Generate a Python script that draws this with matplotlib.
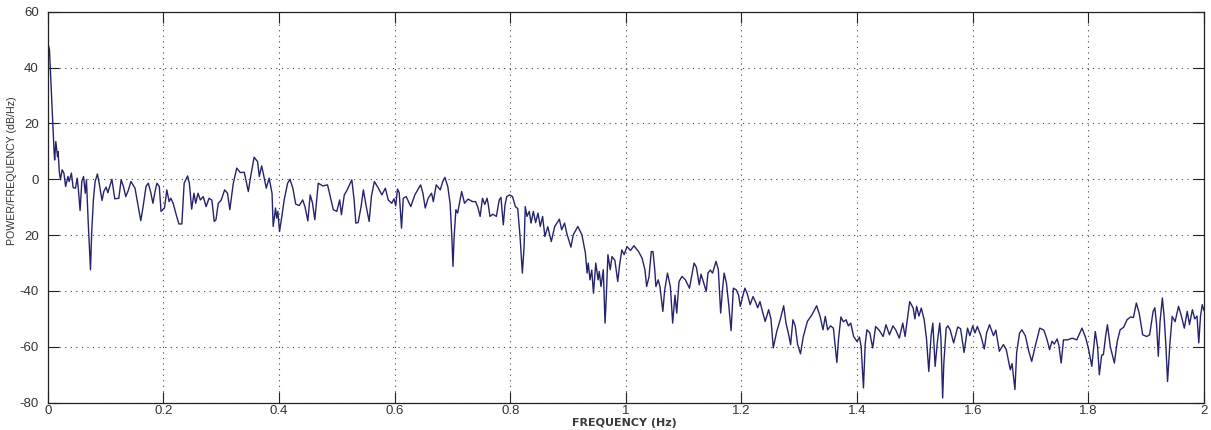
import matplotlib
matplotlib.use("Agg")
import matplotlib.pyplot as plt

# ---- data ----
freq_hz = [
    0.000, 0.003, 0.007, 0.009, 0.011, 0.012, 0.014, 0.017, 0.018, 0.020,
    0.022, 0.025, 0.028, 0.031, 0.035, 0.037, 0.041, 0.044, 0.048, 0.051,
    0.053, 0.056, 0.059, 0.062, 0.065, 0.067, 0.070, 0.073, 0.074, 0.076,
    0.079, 0.082, 0.086, 0.089, 0.094, 0.097, 0.101, 0.104, 0.108, 0.111,
    0.116, 0.123, 0.127, 0.131, 0.135, 0.139, 0.144, 0.151, 0.157, 0.161,
    0.165, 0.170, 0.174, 0.178, 0.182, 0.186, 0.189, 0.193, 0.196, 0.202,
    0.206, 0.210, 0.213, 0.217, 0.223, 0.227, 0.232, 0.236, 0.242, 0.245,
    0.249, 0.253, 0.256, 0.260, 0.264, 0.269, 0.274, 0.279, 0.284, 0.288,
    0.291, 0.295, 0.300, 0.306, 0.311, 0.315, 0.321, 0.327, 0.333, 0.340,
    0.347, 0.351, 0.357, 0.363, 0.366, 0.370, 0.373, 0.378, 0.383, 0.388,
    0.390, 0.394, 0.396, 0.398, 0.401, 0.405, 0.409, 0.415, 0.419, 0.424,
    0.429, 0.435, 0.441, 0.445, 0.450, 0.454, 0.458, 0.462, 0.468, 0.476,
    0.484, 0.488, 0.494, 0.500, 0.505, 0.508, 0.513, 0.518, 0.526, 0.530,
    0.533, 0.537, 0.542, 0.546, 0.551, 0.556, 0.560, 0.565, 0.572, 0.578,
    0.584, 0.589, 0.595, 0.599, 0.602, 0.605, 0.608, 0.612, 0.615, 0.620,
    0.628, 0.635, 0.645, 0.649, 0.653, 0.658, 0.664, 0.667, 0.672, 0.676,
    0.679, 0.683, 0.687, 0.692, 0.696, 0.699, 0.701, 0.703, 0.706, 0.709,
    0.716, 0.721, 0.727, 0.735, 0.740, 0.744, 0.748, 0.752, 0.756, 0.760,
    0.762, 0.765, 0.770, 0.776, 0.781, 0.784, 0.788, 0.791, 0.794, 0.799,
    0.804, 0.809, 0.813, 0.817, 0.821, 0.824, 0.826, 0.829, 0.833, 0.836,
    0.840, 0.844, 0.848, 0.852, 0.856, 0.860, 0.865, 0.871, 0.877, 0.885,
    0.889, 0.894, 0.898, 0.905, 0.909, 0.917, 0.924, 0.930, 0.933, 0.935,
    0.938, 0.941, 0.944, 0.948, 0.952, 0.954, 0.957, 0.961, 0.964, 0.966,
    0.969, 0.973, 0.976, 0.981, 0.986, 0.989, 0.993, 0.997, 1.002, 1.008,
    1.014, 1.022, 1.028, 1.033, 1.036, 1.040, 1.044, 1.047, 1.050, 1.052,
    1.056, 1.059, 1.064, 1.067, 1.072, 1.077, 1.081, 1.085, 1.088, 1.092,
    1.097, 1.103, 1.110, 1.118, 1.122, 1.127, 1.130, 1.134, 1.139, 1.142,
    1.146, 1.150, 1.156, 1.160, 1.164, 1.167, 1.170, 1.174, 1.178, 1.182,
    1.186, 1.191, 1.195, 1.198, 1.202, 1.206, 1.210, 1.215, 1.220, 1.225,
    1.228, 1.232, 1.237, 1.241, 1.247, 1.251, 1.255, 1.261, 1.267, 1.273,
    1.277, 1.281, 1.285, 1.289, 1.293, 1.297, 1.302, 1.307, 1.314, 1.322,
    1.330, 1.336, 1.341, 1.345, 1.349, 1.354, 1.359, 1.365, 1.368, 1.372,
    1.376, 1.381, 1.385, 1.389, 1.394, 1.400, 1.404, 1.407, 1.411, 1.414,
    1.417, 1.422, 1.427, 1.432, 1.438, 1.445, 1.450, 1.456, 1.462, 1.467,
    1.473, 1.479, 1.483, 1.491, 1.497, 1.500, 1.503, 1.507, 1.511, 1.516,
    1.520, 1.524, 1.528, 1.531, 1.535, 1.539, 1.543, 1.545, 1.548, 1.550,
    1.554, 1.557, 1.561, 1.567, 1.574, 1.579, 1.585, 1.591, 1.595, 1.600,
    1.604, 1.608, 1.614, 1.620, 1.624, 1.629, 1.636, 1.640, 1.646, 1.653,
    1.658, 1.665, 1.668, 1.673, 1.676, 1.681, 1.685, 1.691, 1.697, 1.702,
    1.709, 1.716, 1.723, 1.728, 1.733, 1.737, 1.741, 1.746, 1.749, 1.753,
    1.757, 1.764, 1.772, 1.780, 1.789, 1.795, 1.800, 1.806, 1.812, 1.816,
    1.819, 1.823, 1.826, 1.830, 1.833, 1.838, 1.845, 1.850, 1.855, 1.861,
    1.867, 1.873, 1.878, 1.883, 1.888, 1.894, 1.901, 1.906, 1.912, 1.915,
    1.918, 1.921, 1.924, 1.928, 1.931, 1.934, 1.937, 1.941, 1.945, 1.950,
    1.956, 1.961, 1.966, 1.971, 1.975, 1.980, 1.984, 1.988, 1.991, 1.994,
    1.997, 2.000,
]

psd_db = [
    48.9, 46.5, 28.4, 20.1, 9.9, 6.9, 13.5, 8.1, 9.9, 2.8,
    -0.2, 3.4, 2.2, -2.6, 1.0, -0.8, 2.2, -3.0, -3.2, 0.4,
    -3.5, -11.2, -0.8, 1.0, -5.0, -0.2, -15.1, -27.7, -32.4, -19.3,
    -7.4, -0.8, 1.9, -1.4, -7.6, -4.4, -2.8, -4.8, -2.1, 0.0,
    -7.0, -6.8, -0.2, -2.6, -6.2, -4.2, -0.8, -3.2, -10.3, -14.8,
    -9.8, -2.6, -1.4, -4.5, -8.6, -4.0, -1.4, -2.6, -11.5, -10.3,
    -3.8, -8.0, -6.8, -8.6, -13.3, -16.0, -16.0, -1.4, 1.2, -1.4,
    -10.7, -5.0, -8.6, -5.0, -7.4, -6.2, -9.8, -6.8, -7.5, -15.1,
    -14.5, -8.6, -7.5, -3.8, -5.0, -10.9, -1.4, 4.0, 2.4, 2.5,
    -4.4, 1.0, 7.9, 6.3, 1.0, 4.8, 2.0, -3.2, 0.4, -5.0,
    -16.9, -10.3, -13.9, -11.5, -18.7, -13.3, -7.4, -1.4, 0.0, -3.2,
    -8.9, -9.4, -7.4, -9.8, -14.9, -5.6, -8.5, -14.5, -1.4, -2.4,
    -2.0, -5.6, -10.9, -11.5, -7.4, -12.7, -5.6, -3.8, -0.2, -7.4,
    -15.7, -15.5, -9.8, -3.8, -9.8, -15.1, -6.0, -0.8, -3.2, -5.6,
    -3.2, -7.4, -8.6, -7.0, -9.5, -3.5, -4.8, -17.5, -6.8, -6.2,
    -9.8, -5.6, -2.0, -5.0, -10.3, -6.8, -5.0, -8.0, -2.0, -3.0,
    -3.8, -1.0, 0.7, -2.6, -8.6, -20.5, -31.2, -20.5, -10.9, -12.1,
    -4.4, -8.6, -7.1, -8.0, -8.0, -10.0, -13.3, -6.8, -9.0, -6.8,
    -9.0, -13.3, -12.5, -13.3, -7.4, -6.5, -16.3, -9.2, -6.2, -5.6,
    -6.2, -9.8, -10.5, -20.5, -33.6, -24.1, -9.8, -13.3, -11.5, -15.7,
    -11.5, -15.5, -12.1, -16.9, -13.3, -20.5, -17.0, -22.3, -16.9, -14.3,
    -18.1, -15.7, -19.5, -24.3, -19.9, -16.9, -19.9, -26.4, -33.6, -30.0,
    -36.0, -32.5, -40.8, -30.0, -36.0, -33.0, -38.4, -32.4, -51.5, -43.0,
    -27.0, -32.4, -27.7, -29.0, -36.6, -31.0, -25.3, -27.0, -24.1, -25.5,
    -23.8, -25.9, -28.2, -32.4, -38.4, -35.0, -25.9, -25.9, -32.4, -38.4,
    -36.0, -38.4, -47.3, -40.0, -33.6, -38.4, -51.5, -41.5, -47.9, -36.6,
    -34.8, -36.0, -39.0, -30.0, -31.5, -37.8, -34.0, -36.6, -40.2, -33.6,
    -32.5, -33.6, -29.4, -32.4, -47.9, -40.0, -33.6, -37.2, -45.0, -54.2,
    -39.0, -39.6, -41.5, -45.5, -42.0, -39.0, -41.0, -44.9, -42.0, -44.3,
    -46.0, -43.8, -47.9, -50.9, -46.7, -50.0, -60.4, -54.5, -50.3, -45.3,
    -51.5, -55.0, -59.2, -50.3, -52.5, -59.0, -62.5, -56.3, -50.9, -48.5,
    -45.3, -49.1, -53.9, -49.1, -53.9, -52.5, -53.3, -65.6, -57.0, -49.3,
    -51.0, -50.3, -52.5, -51.5, -56.3, -58.1, -56.5, -59.9, -74.7, -59.0,
    -53.9, -55.0, -60.4, -52.7, -54.0, -56.3, -52.1, -55.7, -52.5, -54.0,
    -56.9, -51.5, -56.3, -43.8, -46.1, -50.0, -45.5, -49.0, -46.1, -50.3,
    -57.0, -68.8, -56.0, -51.5, -67.0, -58.0, -51.5, -57.0, -78.3, -66.0,
    -53.3, -52.5, -53.9, -58.6, -52.9, -53.5, -62.0, -53.3, -56.0, -52.5,
    -55.0, -52.7, -56.0, -60.8, -55.0, -52.1, -56.0, -54.0, -61.6, -59.2,
    -61.0, -68.2, -66.0, -75.3, -62.0, -55.1, -53.9, -56.0, -61.6, -65.2,
    -59.0, -53.3, -54.0, -57.0, -61.0, -58.0, -59.0, -57.2, -59.5, -65.8,
    -57.5, -57.5, -56.9, -57.5, -53.3, -56.5, -60.4, -67.0, -54.5, -60.0,
    -70.0, -63.0, -62.8, -56.0, -52.1, -60.0, -65.8, -58.0, -53.9, -53.0,
    -50.3, -49.3, -49.5, -44.3, -48.0, -55.7, -56.3, -55.7, -47.3, -46.0,
    -52.0, -63.4, -51.0, -42.5, -49.0, -59.0, -72.4, -59.0, -49.1, -51.0,
    -45.5, -49.0, -53.3, -47.3, -52.0, -46.7, -50.0, -49.0, -58.6, -49.0,
    -44.9, -47.0,
]

x_ticks = [0, 0.2, 0.4, 0.6, 0.8, 1.0, 1.2, 1.4, 1.6, 1.8, 2.0]
x_tick_labels = ["0", "0.2", "0.4", "0.6", "0.8", "1", "1.2", "1.4", "1.6", "1.8", "2"]
y_ticks = [-80, -60, -40, -20, 0, 20, 40, 60]
y_tick_labels = ["-80", "-60", "-40", "20", "0", "20", "40", "60"]

x_label = "FREQUENCY (Hz)"
y_label = "POWER/FREQUENCY (dB/Hz)"

# ---- figure ----
plt.rcParams["font.family"] = ["Liberation Sans", "DejaVu Sans"]

fig = plt.figure(figsize=(12.11, 4.30), dpi=100)
ax = fig.add_axes([0.0394, 0.0635, 0.9548, 0.9093])

ax.plot(freq_hz, psd_db, color="#24246e", linewidth=1.0)

ax.set_xlim(0, 2)
ax.set_ylim(-80, 60)
ax.set_xticks(x_ticks)
ax.set_xticklabels(x_tick_labels)
ax.set_yticks(y_ticks)
ax.set_yticklabels(y_tick_labels)

ax.tick_params(direction="in", length=8, width=0.8, top=True, right=True,
               labelsize=9.5, labelcolor="#333333", color="#222222")
ax.tick_params(axis="x", pad=2.0)
ax.tick_params(axis="y", pad=6.5)

ax.grid(True, color="#444444", linestyle=(0, (1, 4)), linewidth=0.8)
for s in ax.spines.values():
    s.set_linewidth(0.9)
    s.set_color("#222222")

ax.set_xlabel(x_label, fontsize=8.0, fontweight="bold", color="#3a3a3a",
              family=["DejaVu Sans"])
ax.xaxis.set_label_coords(0.499, -0.039)
ax.set_ylabel(y_label, fontsize=7.7, color="#333333")
ax.yaxis.set_label_coords(-0.0262, 0.593)

fig.savefig("out.png", dpi=100, facecolor="white")
